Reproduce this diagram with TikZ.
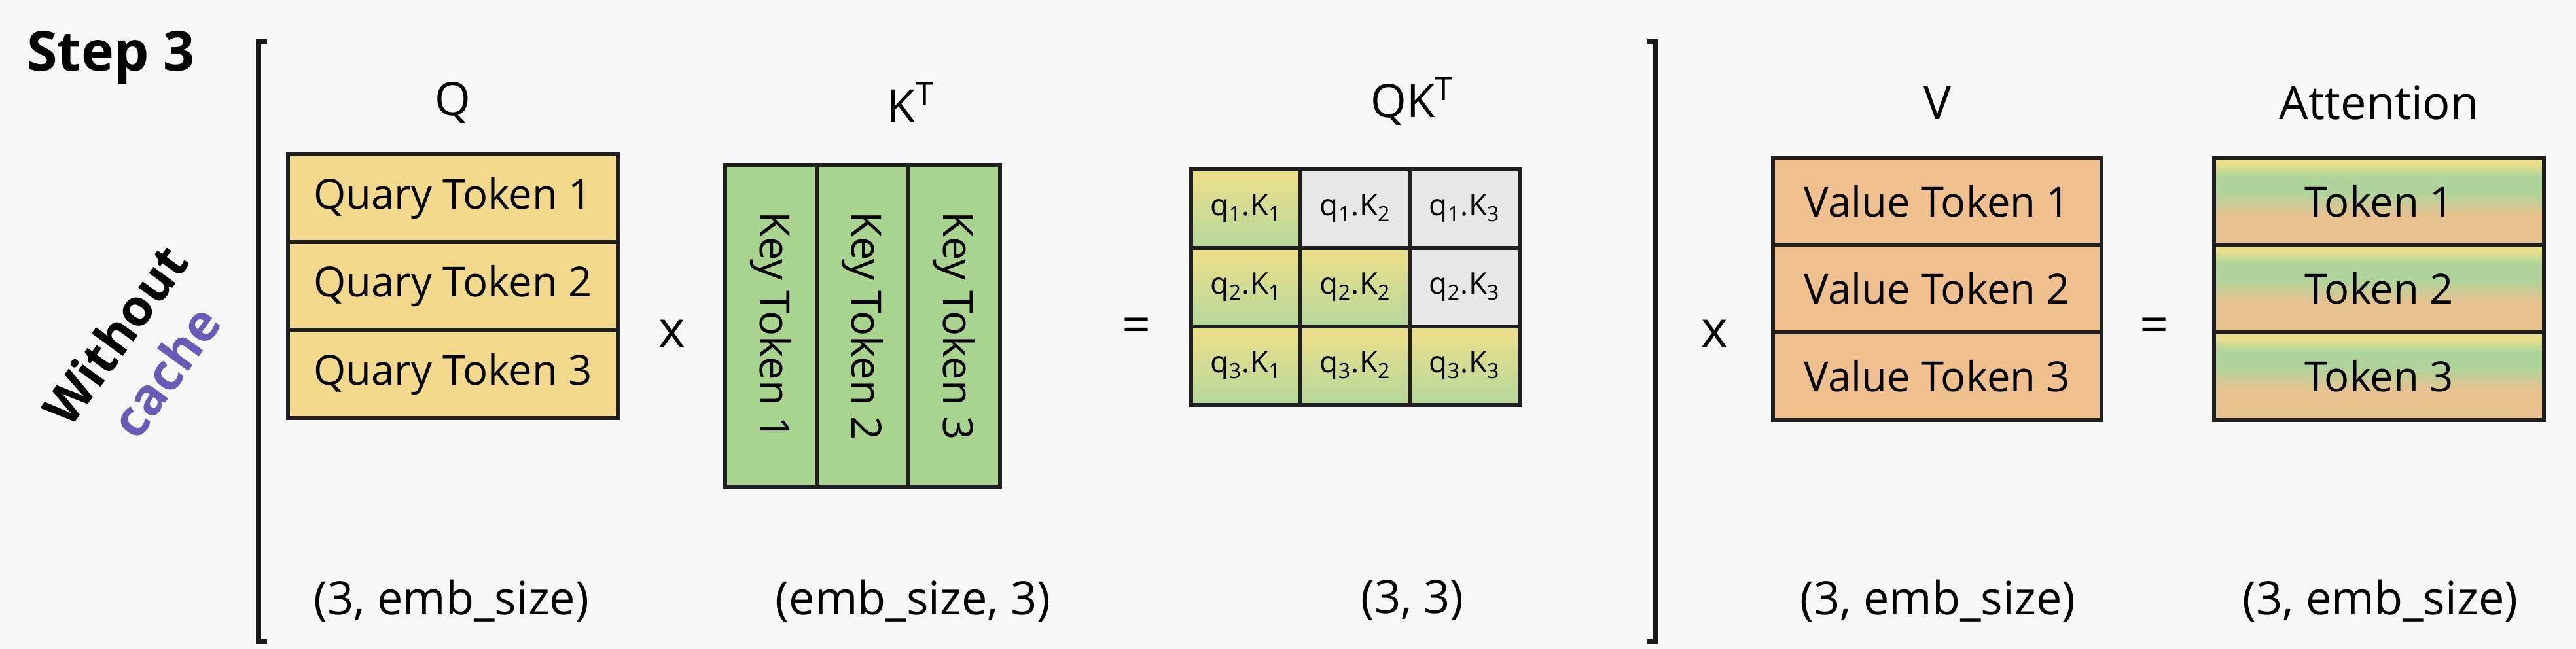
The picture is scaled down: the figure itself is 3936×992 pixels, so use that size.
\documentclass[tikz,border=0pt]{standalone}
\usepackage{fontspec}
\setmainfont{Open Sans}
\definecolor{ayel}{HTML}{E8DF8A}
\definecolor{agrn}{HTML}{AED49B}
\definecolor{aorg}{HTML}{E8C28F}
\pgfdeclareverticalshading{attnsh}{100bp}{color(0bp)=(aorg); color(25bp)=(aorg); color(42bp)=(aorg); color(55bp)=(agrn); color(64bp)=(agrn); color(71bp)=(ayel); color(100bp)=(ayel)}
\begin{document}
\begin{tikzpicture}[x=0.01cm,y=-0.01cm,
  every node/.style={font=\fontsize{18}{20}\selectfont, text=black},
  lbl/.style={font=\fontsize{20}{22}\selectfont},
  dims/.style={font=\fontsize{20}{22}\selectfont},
  op/.style={font=\fontsize{22}{24}\selectfont},
  rowq/.style={draw=black!88, line width=1.7pt, fill=qyel, minimum width=5.04cm, minimum height=1.345cm, inner sep=0pt},
  rowv/.style={draw=black!88, line width=1.7pt, fill=vorg, minimum width=5.01cm, minimum height=1.345cm, inner sep=0pt},
  rowa/.style={draw=black!88, line width=1.7pt, shading=attnsh, minimum width=5.03cm, minimum height=1.345cm, inner sep=0pt},
  colk/.style={draw=black!88, line width=1.7pt, fill=kgrn, minimum width=1.4cm, minimum height=4.92cm, inner sep=0pt},
  cellc/.style={draw=black!88, line width=1.7pt, top color=cyel, bottom color=cgrn, minimum width=1.67cm, minimum height=1.205cm, inner sep=0pt, font=\fontsize{13}{15}\selectfont},
  cellg/.style={draw=black!88, line width=1.7pt, fill=cgry, minimum width=1.67cm, minimum height=1.205cm, inner sep=0pt, font=\fontsize{13}{15}\selectfont},
  brk/.style={line width=2.2pt, black!90}
]
\definecolor{bg}{HTML}{F8F8F8}
\definecolor{qyel}{HTML}{F2D98C}
\definecolor{vorg}{HTML}{F1C08F}
\definecolor{kgrn}{HTML}{A9D48F}
\definecolor{cyel}{HTML}{EEDF8A}
\definecolor{cgrn}{HTML}{B6D89B}
\definecolor{cgry}{HTML}{E7E7E7}
\definecolor{cachec}{HTML}{6A5AB8}

\fill[bg] (0,0) rectangle (3936,992);
\useasboundingbox (0,0) rectangle (3936,992);

% title
\node[anchor=west, font=\fontsize{24}{26}\selectfont\bfseries] (step) at (29,88) {Step 3};
\node[rotate=54, align=center, font=\fontsize{22}{27}\selectfont\bfseries] (wc) at (214,540) {Without\\\textcolor{cachec}{cache}};

% brackets
\draw[brk] (408,63) -- (395,63) -- (395,980) -- (408,980);
\draw[brk] (2517,63) -- (2530,63) -- (2530,980) -- (2517,980);

% Q
\node[lbl] (qlab) at (692,157) {Q};
\node[rowq] (q1) at (692,303) {Quary Token 1};
\node[rowq] (q2) at (692,437) {Quary Token 2};
\node[rowq] (q3) at (692,572) {Quary Token 3};
\node[dims] (qd) at (690,918) {(3, emb\_size)};

\node[op] (x1) at (1027,510) {x};

% K^T
\node[lbl] (klab) at (1392,157) {K\textsuperscript{T}};
\node[colk] (k1) at (1178,498) {};
\node[colk] (k2) at (1318,498) {};
\node[colk] (k3) at (1458,498) {};
\node[rotate=-90] (kt1) at (k1) {Key Token 1};
\node[rotate=-90] (kt2) at (k2) {Key Token 2};
\node[rotate=-90] (kt3) at (k3) {Key Token 3};
\node[dims] (kd) at (1395,918) {(emb\_size, 3)};

\node[op] (eq1) at (1737,505) {=};

% QK^T
\node[lbl] (qklab) at (2158,155) {QK\textsuperscript{T}};
\node[cellc] (c11) at (1904,319) {q\textsubscript{1}.K\textsubscript{1}};
\node[cellg] (c12) at (2071,319) {q\textsubscript{1}.K\textsubscript{2}};
\node[cellg] (c13) at (2238,319) {q\textsubscript{1}.K\textsubscript{3}};
\node[cellc] (c21) at (1904,439) {q\textsubscript{2}.K\textsubscript{1}};
\node[cellc] (c22) at (2071,439) {q\textsubscript{2}.K\textsubscript{2}};
\node[cellg] (c23) at (2238,439) {q\textsubscript{2}.K\textsubscript{3}};
\node[cellc] (c31) at (1904,559) {q\textsubscript{3}.K\textsubscript{1}};
\node[cellc] (c32) at (2071,559) {q\textsubscript{3}.K\textsubscript{2}};
\node[cellc] (c33) at (2238,559) {q\textsubscript{3}.K\textsubscript{3}};
\node[dims] (qkd) at (2158,918) {(3, 3)};

\node[op] (x2) at (2620,510) {x};

% V
\node[lbl] (vlab) at (2960,157) {V};
\node[rowv] (v1) at (2960,308) {Value Token 1};
\node[rowv] (v2) at (2960,441) {Value Token 2};
\node[rowv] (v3) at (2960,575) {Value Token 3};
\node[dims] (vd) at (2961,918) {(3, emb\_size)};

\node[op] (eq2) at (3292,505) {=};

% Attention
\node[lbl] (alab) at (3635,157) {Attention};
\node[rowa] (a1) at (3635,308) {Token 1};
\node[rowa] (a2) at (3635,441) {Token 2};
\node[rowa] (a3) at (3635,575) {Token 3};
\node[dims] (ad) at (3637,918) {(3, emb\_size)};
\end{tikzpicture}
\end{document}
